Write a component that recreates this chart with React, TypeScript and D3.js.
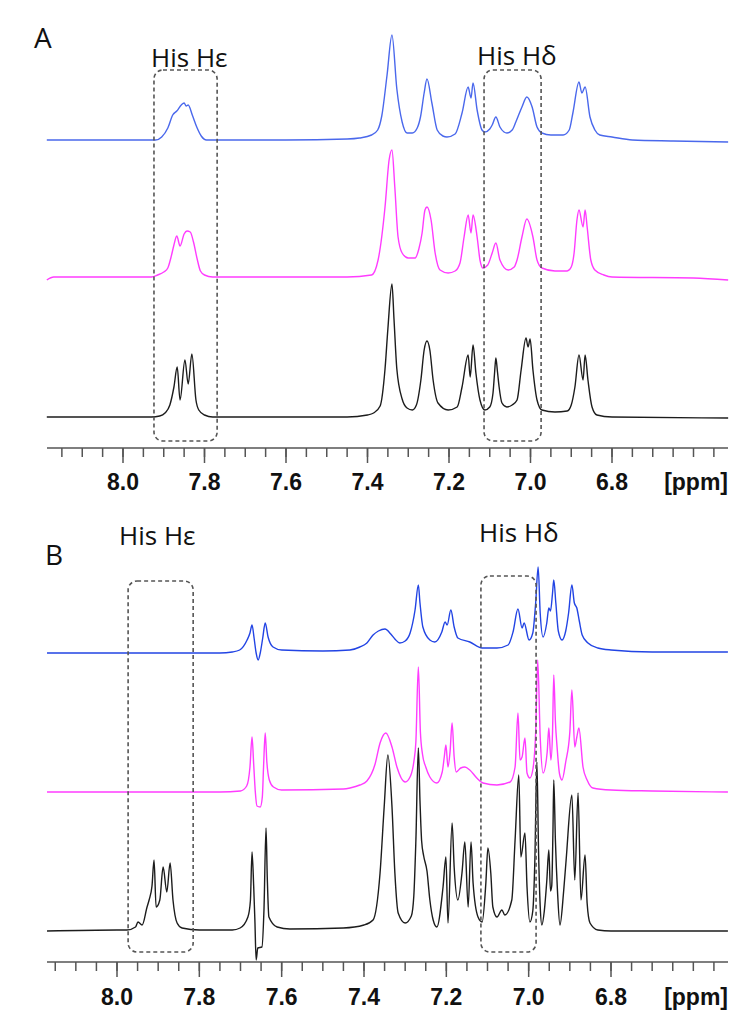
import React from 'react'
import * as d3 from 'd3'

type Pt = [number, number]

// chemical shift ticks (ppm)
const majorTicks = [8.0, 7.8, 7.6, 7.4, 7.2, 7.0, 6.8]
const minorTicks = d3.range(6.55, 8.16, 0.05)

// region markers (ppm ranges)
const regionLabels = ['His Hε', 'His Hδ']
const regionsA: Pt[] = [[7.924, 7.769], [7.114, 6.974]]
const regionsB: Pt[] = [[7.973, 7.815], [7.116, 6.982]]

// panel A spectra: [ppm, intensity a.u.]
const aBlue: Pt[] = [[8.187,0],[7.95,0],[7.92,0],[7.905,3],[7.89,12],[7.878,25],[7.868,29],[7.857,35],[7.85,37],[7.845,34],[7.84,35],[7.83,25],[7.818,12],[7.808,4],[7.795,0],[7.6,0],[7.45,1],[7.42,2],[7.39,5],[7.375,10],[7.365,24],[7.352,65],[7.34,105],[7.328,51],[7.315,18],[7.303,7],[7.29,7],[7.278,12],[7.27,23],[7.261,47],[7.254,61],[7.242,37],[7.229,10],[7.215,4],[7.205,3],[7.185,6],[7.168,27],[7.153,53],[7.146,42],[7.141,57],[7.131,30],[7.119,10],[7.112,8],[7.1,11],[7.094,15],[7.085,23],[7.075,13],[7.065,8],[7.058,7],[7.045,10],[7.036,18],[7.021,33],[7.009,43],[6.996,33],[6.984,13],[6.972,7],[6.95,5],[6.92,5],[6.905,10],[6.896,27],[6.881,58],[6.874,47],[6.866,53],[6.854,23],[6.842,10],[6.83,5],[6.8,3],[6.75,0],[6.65,-1],[6.515,-2]]
const aMagenta: Pt[] = [[8.187,-3],[8.17,0],[7.93,0],[7.915,2],[7.9,5],[7.89,9],[7.882,20],[7.875,32],[7.868,41],[7.86,31],[7.85,43],[7.843,46],[7.835,45],[7.827,35],[7.818,18],[7.81,6],[7.8,2],[7.78,0],[7.45,0],[7.39,2],[7.374,17],[7.357,70],[7.347,117],[7.34,127],[7.333,90],[7.325,40],[7.315,24],[7.3,19],[7.283,19],[7.274,28],[7.266,44],[7.259,67],[7.254,70],[7.244,57],[7.234,24],[7.222,7],[7.202,4],[7.185,6],[7.173,14],[7.163,40],[7.153,62],[7.146,44],[7.141,62],[7.131,40],[7.124,17],[7.117,9],[7.105,12],[7.094,24],[7.085,34],[7.075,17],[7.055,7],[7.04,10],[7.033,17],[7.021,40],[7.009,58],[6.994,40],[6.984,17],[6.972,9],[6.94,6],[6.91,6],[6.9,10],[6.893,24],[6.886,57],[6.881,67],[6.871,50],[6.866,67],[6.861,50],[6.852,17],[6.842,7],[6.82,2],[6.8,0],[6.6,-1],[6.515,-3]]
const aBlack: Pt[] = [[8.187,0],[7.93,0],[7.91,1],[7.897,4],[7.885,12],[7.875,30],[7.867,50],[7.86,17],[7.848,57],[7.84,33],[7.831,63],[7.821,17],[7.814,7],[7.8,2],[7.78,0],[7.45,0],[7.4,2],[7.385,4],[7.369,11],[7.357,48],[7.35,88],[7.34,133],[7.335,98],[7.328,48],[7.315,18],[7.303,9],[7.29,7],[7.28,12],[7.269,37],[7.261,67],[7.254,76],[7.247,67],[7.239,37],[7.227,14],[7.202,7],[7.18,10],[7.168,30],[7.153,62],[7.148,40],[7.141,72],[7.134,44],[7.124,17],[7.112,7],[7.1,10],[7.092,24],[7.088,45],[7.085,59],[7.081,45],[7.077,30],[7.07,14],[7.058,10],[7.045,12],[7.033,17],[7.023,47],[7.011,79],[7.006,70],[7.001,78],[6.994,47],[6.984,17],[6.972,7],[6.94,5],[6.91,6],[6.9,12],[6.891,30],[6.881,62],[6.871,37],[6.866,62],[6.859,37],[6.849,10],[6.837,2],[6.8,0],[6.515,-1]]

// panel B spectra
const bBlue: Pt[] = [[8.17,0],[7.75,0],[7.72,1],[7.702,3],[7.684,13],[7.677,20],[7.672,28],[7.667,15],[7.662,0],[7.657,-7],[7.652,0],[7.646,15],[7.64,30],[7.633,16],[7.621,6],[7.6,3],[7.5,2],[7.434,3],[7.41,6],[7.393,10],[7.378,18],[7.365,22],[7.349,24],[7.335,19],[7.325,14],[7.313,10],[7.3,12],[7.288,20],[7.276,43],[7.268,68],[7.264,50],[7.257,26],[7.24,13],[7.228,11],[7.211,21],[7.203,31],[7.198,28],[7.189,43],[7.181,26],[7.172,15],[7.143,11],[7.113,5],[7.077,5],[7.05,8],[7.038,21],[7.026,44],[7.016,25],[7.011,30],[6.999,13],[6.99,20],[6.983,50],[6.977,86],[6.972,40],[6.965,16],[6.956,30],[6.951,45],[6.947,42],[6.942,60],[6.939,73],[6.934,50],[6.928,22],[6.919,13],[6.91,22],[6.903,40],[6.895,68],[6.889,50],[6.883,45],[6.877,32],[6.87,18],[6.856,10],[6.832,5],[6.8,3],[6.7,1],[6.516,1]]
const bMagenta: Pt[] = [[8.17,0],[7.75,0],[7.7,1],[7.685,6],[7.677,25],[7.672,55],[7.668,28],[7.664,0],[7.66,-14],[7.652,-15],[7.647,-5],[7.644,25],[7.64,59],[7.636,30],[7.63,12],[7.62,5],[7.6,2],[7.45,3],[7.434,4],[7.41,7],[7.393,11],[7.373,28],[7.361,49],[7.347,59],[7.332,45],[7.32,25],[7.3,10],[7.287,16],[7.279,30],[7.274,50],[7.268,125],[7.263,60],[7.258,38],[7.25,25],[7.24,15],[7.223,9],[7.21,20],[7.205,35],[7.201,47],[7.196,25],[7.191,40],[7.186,69],[7.181,35],[7.176,20],[7.165,24],[7.155,25],[7.143,22],[7.126,14],[7.111,9],[7.077,7],[7.045,10],[7.033,25],[7.026,79],[7.021,32],[7.016,35],[7.009,54],[7.004,19],[6.997,14],[6.99,22],[6.983,60],[6.978,132],[6.972,55],[6.965,19],[6.955,40],[6.951,64],[6.946,32],[6.942,60],[6.939,117],[6.935,70],[6.931,45],[6.925,18],[6.919,12],[6.91,30],[6.9,60],[6.895,102],[6.888,45],[6.883,55],[6.878,64],[6.868,25],[6.858,12],[6.844,4],[6.8,2],[6.7,1],[6.516,0]]
const bBlack: Pt[] = [[8.17,0],[8.0,1],[7.976,1],[7.955,4],[7.949,9],[7.939,6],[7.927,24],[7.922,31],[7.915,45],[7.91,71],[7.905,24],[7.896,31],[7.888,64],[7.879,39],[7.871,68],[7.864,31],[7.854,8],[7.842,3],[7.8,1],[7.72,1],[7.701,3],[7.682,14],[7.676,30],[7.672,79],[7.668,45],[7.665,10],[7.662,-29],[7.658,-17],[7.648,-16],[7.643,21],[7.638,103],[7.635,54],[7.631,14],[7.611,4],[7.58,2],[7.45,3],[7.4,6],[7.378,11],[7.361,58],[7.351,124],[7.342,176],[7.332,124],[7.325,58],[7.317,18],[7.3,8],[7.285,15],[7.279,35],[7.274,90],[7.268,183],[7.264,130],[7.26,90],[7.255,75],[7.247,60],[7.24,31],[7.232,11],[7.223,4],[7.208,44],[7.201,74],[7.196,8],[7.186,108],[7.181,64],[7.172,31],[7.162,58],[7.155,89],[7.147,24],[7.14,89],[7.135,48],[7.123,14],[7.113,9],[7.104,48],[7.099,83],[7.092,58],[7.087,24],[7.077,14],[7.065,21],[7.058,16],[7.041,31],[7.033,91],[7.024,156],[7.019,74],[7.009,98],[7.004,44],[6.997,9],[6.99,20],[6.985,70],[6.98,169],[6.976,80],[6.972,25],[6.968,6],[6.962,20],[6.956,50],[6.951,81],[6.947,40],[6.944,45],[6.941,100],[6.939,151],[6.935,90],[6.93,40],[6.924,6],[6.915,40],[6.909,71],[6.895,136],[6.888,51],[6.88,138],[6.873,31],[6.863,76],[6.858,28],[6.851,8],[6.832,1],[6.8,0],[6.516,0]]

const width = 756
const height = 1021
const labelFont = '"Open Sans", sans-serif'
const tickFont = '"Liberation Sans", Arial, sans-serif'

type PanelProps = {
  letter: string
  letterPos: Pt
  xRange: Pt
  axisY: number
  axisExtent: Pt
  tickLabelY: number
  baselines: number[]
  traces: Pt[][]
  colors: string[]
  regions: Pt[]
  boxY: Pt[]
  labelPos: Pt[]
}

function Panel(p: PanelProps) {
  const x = d3.scaleLinear().domain([8.0, 6.8]).range(p.xRange)

  return (
    <g>
      <text x={p.letterPos[0]} y={p.letterPos[1]} fontFamily={labelFont} fontSize={28} fill="#111">{p.letter}</text>

      {p.traces.map((tr, i) => {
        const base = p.baselines[i]
        const y = d3.scaleLinear().domain([0, 100]).range([base, base - 100])
        const line = d3.line<Pt>().x(d => x(d[0])).y(d => y(d[1])).curve(d3.curveMonotoneX)
        return <path key={i} d={line(tr) || ''} fill="none" stroke={p.colors[i]} strokeWidth={1.4} strokeLinejoin="round" />
      })}

      {p.regions.map((r, i) => {
        const x0 = x(r[0])
        const x1 = x(r[1])
        return (
          <g key={i}>
            <rect x={x0} y={p.boxY[i][0]} width={x1 - x0} height={p.boxY[i][1] - p.boxY[i][0]}
              rx={9} fill="none" stroke="#555" strokeWidth={1.6} strokeDasharray="4 3" />
            <text x={p.labelPos[i][0]} y={p.labelPos[i][1]} fontFamily={labelFont} fontSize={26} fill="#111">
              {regionLabels[i]}
            </text>
          </g>
        )
      })}

      <line x1={p.axisExtent[0]} x2={p.axisExtent[1]} y1={p.axisY} y2={p.axisY} stroke="#555" strokeWidth={1.6} />
      {minorTicks.map(t => (
        <line key={'m' + t} x1={x(t)} x2={x(t)} y1={p.axisY} y2={p.axisY + 9} stroke="#555" strokeWidth={1.5} />
      ))}
      {majorTicks.map(t => (
        <g key={'M' + t}>
          <line x1={x(t)} x2={x(t)} y1={p.axisY} y2={p.axisY + 15} stroke="#555" strokeWidth={1.5} />
          <text x={x(t)} y={p.tickLabelY} textAnchor="middle" fontFamily={tickFont} fontWeight="bold" fontSize={23} fill="#111">
            {t.toFixed(1)}
          </text>
        </g>
      ))}
      <text x={p.axisExtent[1]} y={p.tickLabelY} textAnchor="end" fontFamily={tickFont} fontWeight="bold" fontSize={23} fill="#111">[ppm]</text>
    </g>
  )
}

export default function App() {
  return (
    <div>
      <style>{`body { margin: 0; background: #fff; }`}</style>
      <svg width={width} height={height} style={{ display: 'block' }}>
        <rect width={width} height={height} fill="#fff" />
        <Panel
          letter="A"
          letterPos={[34, 48]}
          xRange={[123, 612]}
          axisY={448}
          axisExtent={[47, 728]}
          tickLabelY={490}
          baselines={[140, 277, 417]}
          traces={[aBlue, aMagenta, aBlack]}
          colors={['#4a68ec', '#ff3cff', '#1c1c1c']}
          regions={regionsA}
          boxY={[[70, 441], [70, 441]]}
          labelPos={[[151, 67], [477, 65]]}
        />
        <Panel
          letter="B"
          letterPos={[45, 565]}
          xRange={[117, 611]}
          axisY={962}
          axisExtent={[47, 728]}
          tickLabelY={1005}
          baselines={[653, 792, 931]}
          traces={[bBlue, bMagenta, bBlack]}
          colors={['#2244e4', '#ff3cff', '#1c1c1c']}
          regions={regionsB}
          boxY={[[581, 952], [576, 952]]}
          labelPos={[[119, 545], [479, 542]]}
        />
      </svg>
    </div>
  )
}
